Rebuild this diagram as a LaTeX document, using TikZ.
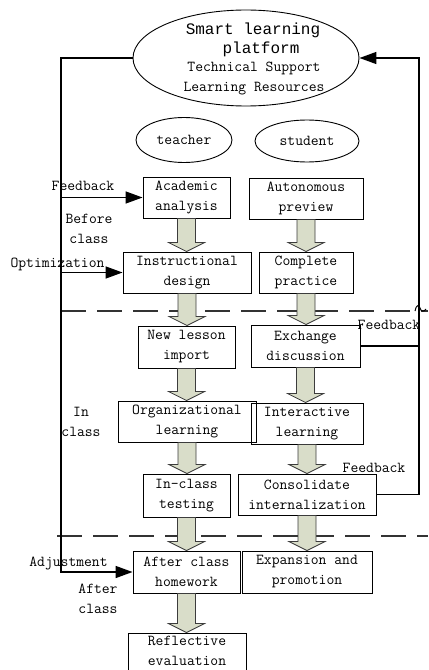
\documentclass[tikz,border=0pt]{standalone}
\usepackage{fontspec}
\usetikzlibrary{shapes.geometric,arrows.meta,calc}
\newfontfamily\courfont{Liberation Mono}
\newcommand\txtf{\ttfamily\fontsize{15.2bp}{20bp}\selectfont}
\newcommand\blkarr[2]{%
  \filldraw[blk] let \p1=(#1.south), \p2=(#2.north) in
    (\x1-9bp,\y1) -- (\x1-9bp,\y2+9bp) -- (\x1-18bp,\y2+9bp) -- (\x1,\y2)
    -- (\x1+18bp,\y2+9bp) -- (\x1+9bp,\y2+9bp) -- (\x1+9bp,\y1) -- cycle;}
\definecolor{blkfill}{RGB}{217,221,201}
\definecolor{blkline}{RGB}{60,60,60}
\begin{document}
\begin{tikzpicture}[x=1bp,y=-1bp,
  box/.style={draw=black, line width=0.9bp, rectangle, inner sep=0pt, align=center, font=\txtf},
  oval/.style={draw=black, line width=0.9bp, ellipse, inner sep=0pt, align=center, font=\txtf},
  lbl/.style={inner sep=0pt, align=center, font=\txtf},
  conn/.style={draw=black, line width=1.5bp},
  arr/.style={conn, -{Triangle[length=17bp,width=12bp]}},
  blk/.style={fill=blkfill, draw=blkline, line width=0.8bp, line join=miter},
  sep/.style={draw=black!80, line width=1.3bp, dash pattern=on 25bp off 11bp}]
\useasboundingbox (0,0) rectangle (428,670);

% platform
\node[oval, minimum width=226bp, minimum height=96bp] (plat) at (246,58) {};
\node[lbl, font=\courfont\fontsize{16bp}{19.3bp}\selectfont] (plattxt) at (253,40)
  {Smart learning\\\hspace*{16bp}platform};
\node[lbl, font=\ttfamily\fontsize{15.2bp}{19.3bp}\selectfont] (plattxt2) at (254,78.5)
  {Technical Support\\Learning Resources};
\node[oval, minimum width=96bp, minimum height=45bp] (teacher) at (184,140) {teacher};
\node[oval, minimum width=104bp, minimum height=42bp] (student) at (307,141) {student};

% separators
\coordinate (d1l) at (61,311); \coordinate (d1r) at (428,311);
\coordinate (d2l) at (57,536); \coordinate (d2r) at (428,536);
\draw[sep] (d1l) -- (d1r);
\draw[sep] (d2l) -- (d2r);

% boxes
\node[box, minimum width=87bp, minimum height=41bp] (aa) at (186.5,197.5) {Academic\\analysis};
\node[box, minimum width=114bp, minimum height=41bp] (ap) at (306,198.5) {Autonomous\\preview};
\node[box, minimum width=128bp, minimum height=41bp] (id) at (187,272.5) {Instructional\\design};
\node[box, minimum width=94bp, minimum height=41bp] (cp) at (306,272.5) {Complete\\practice};
\node[box, minimum width=97bp, minimum height=42bp] (nl) at (186.5,347) {New lesson\\import};
\node[box, minimum width=109bp, minimum height=42bp] (ed) at (305.5,346) {Exchange\\discussion};
\node[box, minimum width=138bp, minimum height=41bp] (ol) at (187,421.5) {Organizational\\learning};
\node[box, minimum width=112bp, minimum height=41bp] (il) at (307,423.5) {Interactive\\learning};
\node[box, minimum width=87bp, minimum height=43bp] (ict) at (186.5,495.5) {In-class\\testing};
\node[box, minimum width=138bp, minimum height=41bp] (ci) at (307,494.5) {Consolidate\\internalization};
\node[box, minimum width=107bp, minimum height=42bp] (ach) at (186.5,572) {After class\\homework};
\node[box, minimum width=130bp, minimum height=42bp] (ep) at (307,572) {Expansion and\\promotion};
\node[box, minimum width=118bp, minimum height=42bp] (re) at (187,654) {};
\node[lbl] (retxt) at (187,651) {Reflective\\evaluation};

% block arrows
\blkarr{aa}{id}
\blkarr{id}{nl}
\blkarr{nl}{ol}
\blkarr{ol}{ict}
\blkarr{ict}{ach}
\blkarr{ach}{re}
\blkarr{ap}{cp}
\blkarr{cp}{ed}
\blkarr{ed}{il}
\blkarr{il}{ci}
\blkarr{ci}{ep}

% feedback loops
\coordinate (lt) at (61,58); \coordinate (lb) at (61,572);
\coordinate (rt) at (419,58);
\draw[arr] (plat.west) -- (lt) -- (lb) -- (ach.west);
\draw[arr] (aa.west -| lt) -- (aa.west);
\draw[arr] (id.west -| lt) -- (id.west);
\draw[arr] (ci.east) -- (ci.east -| rt) -- (rt) -- (plat.east);
\draw[conn] (ed.east) -- (ed.east -| rt);
\draw[line width=1bp] (415,311) .. controls (416,305) and (419,304) .. (420,308)
  .. controls (421,312) and (424,312) .. (426,309);

% labels
\node[lbl] (fb1) at (83,186) {Feedback};
\node[lbl] (bc) at (89,229) {Before\\class};
\node[lbl] (opt) at (57.5,264) {Optimization};
\node[lbl] (fb2) at (389,325) {Feedback};
\node[lbl] (inc) at (81,422) {In\\class};
\node[lbl] (fb3) at (374,468) {Feedback};
\node[lbl] (adj) at (68.5,563) {Adjustment};
\node[lbl] (afc) at (98,598.5) {After\\class};
\end{tikzpicture}
\end{document}
